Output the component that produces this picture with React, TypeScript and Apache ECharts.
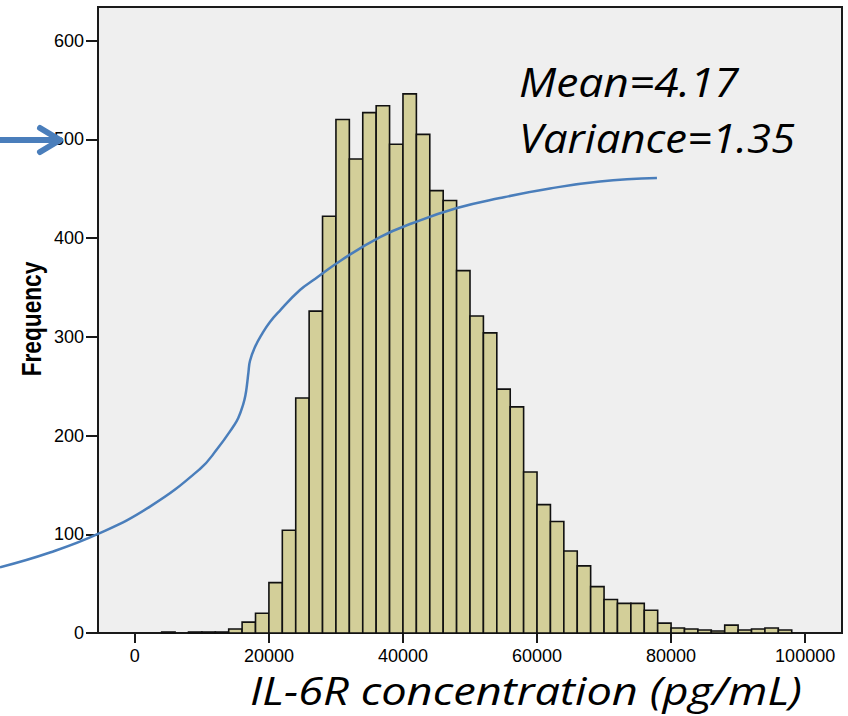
import React, { useEffect, useRef } from "react";
import * as echarts from "echarts";

// Histogram bins (lower edge, pg/mL) and frequencies
const binWidth = 2000;
const binStarts = [
  4000, 6000, 8000, 10000, 12000, 14000, 16000, 18000, 20000, 22000,
  24000, 26000, 28000, 30000, 32000, 34000, 36000, 38000, 40000, 42000,
  44000, 46000, 48000, 50000, 52000, 54000, 56000, 58000, 60000, 62000,
  64000, 66000, 68000, 70000, 72000, 74000, 76000, 78000, 80000, 82000,
  84000, 86000, 88000, 90000, 92000, 94000, 96000,
];
const frequencies = [
  1, 0, 1, 1, 1, 4, 11, 20, 51, 104,
  238, 326, 422, 520, 480, 527, 534, 495, 546, 505,
  448, 438, 367, 321, 304, 247, 229, 163, 130, 113,
  83, 68, 47, 34, 30, 30, 23, 10, 5, 4,
  3, 2, 8, 3, 4, 5, 3,
];

// Hand-drawn blue annotation curve (in the chart's data units)
const curveX = [
  -20125, -12666, -5504, 2253, 9712, 12248, 14635, 15426, 16172,
  16500, 16724, 16948, 17171, 17917, 18961, 20155, 21647, 24631, 26868,
  30852, 36566, 41489, 48053, 54468, 61928, 69387, 77891,
];
const curveY = [
  66.5, 81.5, 100.3, 128, 166.1, 186, 208.6, 217.7, 231.9,
  241, 251.2, 264.3, 275.5, 289.6, 302.8, 315, 326.6, 347.4, 358.5,
  377.8, 401, 415.2, 430.4, 440.5, 450.2, 457.3, 460.8,
];

const xTicks = [0, 20000, 40000, 60000, 80000, 100000];
const yTicks = [0, 100, 200, 300, 400, 500, 600];

const xTitle = "IL-6R concentration (pg/mL)";
const yTitle = "Frequency";
const noteLines = ["Mean=4.17", "Variance=1.35"];

const BLUE = "#4a7ebb";

export default function App() {
  const ref = useRef<HTMLDivElement>(null);
  useEffect(() => {
    if (!ref.current) return;
    const chart = echarts.init(ref.current, null, { renderer: "svg" });
    const barData = binStarts.map((b, i) => [b, b + binWidth, frequencies[i]]);
    const tickFont = { fontSize: 18, color: "#000", fontFamily: "'Liberation Sans', Arial, sans-serif" };
    chart.setOption({
      animation: false,
      backgroundColor: "#ffffff",
      grid: {
        left: 98,
        right: 6,
        top: 7,
        bottom: 83,
        show: true,
        backgroundColor: "#efefef",
        borderColor: "#1a1a1a",
        borderWidth: 2,
      },
      xAxis: {
        type: "value",
        min: -5500,
        max: 105500,
        splitLine: { show: false },
        axisLine: { show: true, onZero: false, lineStyle: { color: "#1a1a1a", width: 2 } },
        axisTick: { show: true, length: 10, customValues: xTicks, lineStyle: { color: "#1a1a1a", width: 2 } },
        axisLabel: { ...tickFont, margin: 14, customValues: xTicks, formatter: (v: number) => String(v) },
      },
      yAxis: {
        type: "value",
        min: 0,
        max: 634,
        splitLine: { show: false },
        axisLine: { show: true, onZero: false, lineStyle: { color: "#1a1a1a", width: 2 } },
        axisTick: { show: true, length: 12, customValues: yTicks, lineStyle: { color: "#1a1a1a", width: 2 } },
        axisLabel: { ...tickFont, margin: 14, customValues: yTicks, formatter: (v: number) => String(v) },
      },
      series: [
        {
          type: "custom",
          data: barData,
          encode: { x: [0, 1], y: 2 },
          renderItem: (params: any, api: any) => {
            const x0 = api.value(0);
            const x1 = api.value(1);
            const y = api.value(2);
            if (!y) return null;
            const p0 = api.coord([x0, y]);
            const p1 = api.coord([x1, 0]);
            return {
              type: "rect",
              shape: { x: p0[0], y: p0[1], width: p1[0] - p0[0], height: p1[1] - p0[1] },
              style: { fill: "#d3cf99", stroke: "#111111", lineWidth: 1.6 },
            };
          },
          z: 2,
        },
      ],
    });

    const curvePts = curveX.map((x, i) =>
      chart.convertToPixel({ gridIndex: 0 }, [x, curveY[i]]) as number[]
    );
    const bigText = (text: string, x: number, y: number, align: string, sx: number, fs: number) => ({
      type: "text",
      x,
      y,
      scaleX: sx,
      z: 10,
      style: {
        text,
        textAlign: align,
        textVerticalAlign: "middle",
        fontFamily: "'Open Sans', sans-serif",
        fontStyle: "italic",
        fontSize: fs,
        fill: "#000",
      },
    });

    chart.setOption({
      graphic: [
        {
          type: "polyline",
          shape: { points: curvePts, smooth: 0.45 },
          style: { stroke: BLUE, lineWidth: 2.5, fill: null },
          z: 8,
          silent: true,
        },
        {
          type: "text",
          x: 31,
          y: 319,
          rotation: Math.PI / 2,
          scaleX: 0.84,
          style: {
            text: yTitle,
            textAlign: "center",
            textVerticalAlign: "middle",
            fontFamily: "'Liberation Sans', Arial, sans-serif",
            fontWeight: "bold",
            fontSize: 27,
            fill: "#000",
          },
        },
        bigText(noteLines[0], 519, 81, "left", 1.11, 40),
        bigText(noteLines[1], 519, 137, "left", 1.09, 40),
        bigText(xTitle, 526, 690, "center", 1.16, 39),
        {
          type: "line",
          shape: { x1: 0, y1: 140, x2: 58, y2: 140 },
          style: { stroke: BLUE, lineWidth: 6 },
          z: 10,
        },
        {
          type: "polyline",
          shape: { points: [[40, 128], [60, 140], [40, 152]] },
          style: { stroke: BLUE, lineWidth: 6, fill: null, lineCap: "round", lineJoin: "round" },
          z: 10,
        },
      ],
    });
    return () => chart.dispose();
  }, []);
  return (
    <div
      ref={ref}
      style={{ position: "fixed", left: 0, top: 0, width: 848, height: 716 }}
    />
  );
}
